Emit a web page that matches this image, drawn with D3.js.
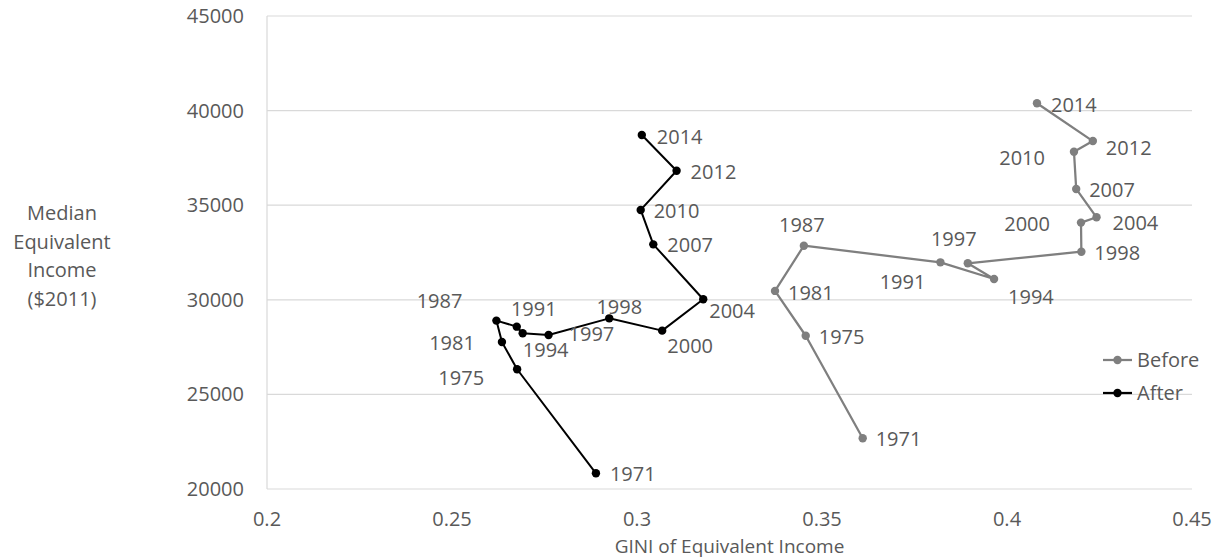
<!DOCTYPE html>
<html>
<head>
<meta charset="utf-8">
<script src="https://cdn.jsdelivr.net/npm/d3@7"></script>
<style>
  body { margin: 0; background: #fff; }
  text { font-family: "Open Sans", "Noto Sans", sans-serif; fill: #595959; }
</style>
</head>
<body>
<div id="chart"></div>
<script>
var years = [1971, 1975, 1981, 1987, 1991, 1994, 1997, 1998, 2000, 2004, 2007, 2010, 2012, 2014];
var beforeGini   = [0.3610, 0.3456, 0.3373, 0.3451, 0.3820, 0.3965, 0.3894, 0.4201, 0.4200, 0.4242, 0.4187, 0.4181, 0.4232, 0.4081];
var beforeIncome = [22680, 28100, 30470, 32860, 31980, 31100, 31930, 32540, 34080, 34360, 35860, 37830, 38390, 40390];
var afterGini    = [0.2889, 0.2676, 0.2635, 0.2620, 0.2675, 0.2691, 0.2761, 0.2925, 0.3068, 0.3179, 0.3044, 0.3010, 0.3107, 0.3013];
var afterIncome  = [20830, 26330, 27770, 28900, 28580, 28230, 28140, 29020, 28370, 30030, 32930, 34750, 36820, 38710];
var xTicks = [0.2, 0.25, 0.3, 0.35, 0.4, 0.45];
var yTicks = [20000, 25000, 30000, 35000, 40000, 45000];

// label placement: [anchor, dx, dy] per year
var beforeLabelPos = {
  1971: ["start", 13, 1], 1975: ["start", 13, 1], 1981: ["start", 13, 2],
  1987: ["middle", -2, -21], 1991: ["end", -15, 20], 1994: ["start", 14, 18],
  1997: ["middle", -14, -24], 1998: ["start", 13, 1], 2000: ["end", -31, 1],
  2004: ["start", 16, 6], 2007: ["start", 13, 1], 2010: ["end", -29, 6],
  2012: ["start", 13, 7], 2014: ["start", 14, 2]
};
var afterLabelPos = {
  1971: ["start", 14, 1], 1975: ["end", -33, 9], 1981: ["end", -27, 1],
  1987: ["end", -34, -20], 1991: ["middle", 17, -18], 1994: ["middle", 23, 17],
  1997: ["start", 20, -1], 1998: ["middle", 10, -11], 2000: ["middle", 28, 15],
  2004: ["start", 6, 12], 2007: ["start", 14, 1], 2010: ["start", 13, 1],
  2012: ["start", 14, 1], 2014: ["start", 15, 2]
};

var width = 1228, height = 560;
var svg = d3.select("#chart").append("svg")
  .attr("width", width)
  .attr("height", height);

var x = d3.scaleLinear().domain([0.2, 0.45]).range([267, 1192]);
var y = d3.scaleLinear().domain([20000, 45000]).range([489, 16]);

////////// grid //////////
svg.append("g")
  .selectAll("line")
  .data(yTicks)
  .enter().append("line")
  .attr("x1", x(0.2)).attr("x2", x(0.45))
  .attr("y1", function (d) { return y(d); })
  .attr("y2", function (d) { return y(d); })
  .attr("stroke", "#d9d9d9").attr("stroke-width", 1.2);
svg.append("line")
  .attr("x1", x(0.2)).attr("x2", x(0.2))
  .attr("y1", y(45000)).attr("y2", y(20000))
  .attr("stroke", "#d9d9d9").attr("stroke-width", 1.2);

////////// axes labels //////////
svg.append("g").selectAll("text")
  .data(yTicks).enter().append("text")
  .attr("x", 244)
  .attr("y", function (d) { return y(d); })
  .attr("dy", "0.35em")
  .attr("text-anchor", "end")
  .style("font-size", "20px")
  .text(function (d) { return d; });

svg.append("g").selectAll("text")
  .data(xTicks).enter().append("text")
  .attr("x", function (d) { return x(d); })
  .attr("y", 519)
  .attr("dy", "0.35em")
  .attr("text-anchor", "middle")
  .style("font-size", "20px")
  .text(function (d) { return d; });

svg.append("text")
  .attr("x", (x(0.2) + x(0.45)) / 2).attr("y", 546).attr("dy", "0.35em")
  .attr("text-anchor", "middle")
  .style("font-size", "19px")
  .text("GINI of Equivalent Income");

var yTitle = ["Median", "Equivalent", "Income", "($2011)"];
svg.append("g").selectAll("text")
  .data(yTitle).enter().append("text")
  .attr("x", 62)
  .attr("y", function (d, i) { return 213 + i * 28.5; })
  .attr("dy", "0.35em")
  .attr("text-anchor", "middle")
  .style("font-size", "20px")
  .text(function (d) { return d; });

////////// series //////////
function drawSeries(gini, income, color, lw, labelPos) {
  var pts = years.map(function (yr, i) { return { year: yr, g: gini[i], v: income[i] }; });
  var line = d3.line()
    .x(function (d) { return x(d.g); })
    .y(function (d) { return y(d.v); });
  var g = svg.append("g");
  g.append("path")
    .datum(pts)
    .attr("d", line)
    .attr("fill", "none")
    .attr("stroke", color)
    .attr("stroke-width", lw)
    .attr("stroke-linejoin", "round");
  g.selectAll("circle")
    .data(pts).enter().append("circle")
    .attr("cx", function (d) { return x(d.g); })
    .attr("cy", function (d) { return y(d.v); })
    .attr("r", 4.2)
    .attr("fill", color);
  g.selectAll("text")
    .data(pts).enter().append("text")
    .attr("x", function (d) { return x(d.g) + labelPos[d.year][1]; })
    .attr("y", function (d) { return y(d.v) + labelPos[d.year][2]; })
    .attr("dy", "0.35em")
    .attr("text-anchor", function (d) { return labelPos[d.year][0]; })
    .style("font-size", "20px")
    .text(function (d) { return d.year; });
}
drawSeries(beforeGini, beforeIncome, "#7f7f7f", 2.25, beforeLabelPos);
drawSeries(afterGini, afterIncome, "#000000", 2, afterLabelPos);

////////// legend //////////
var legend = [["Before", "#7f7f7f"], ["After", "#000000"]];
var lg = svg.append("g").selectAll("g")
  .data(legend).enter().append("g")
  .attr("transform", function (d, i) { return "translate(0," + (360 + i * 33) + ")"; });
lg.append("line")
  .attr("x1", 1103).attr("x2", 1132)
  .attr("stroke", function (d) { return d[1]; })
  .attr("stroke-width", 2.25);
lg.append("circle")
  .attr("cx", 1117.5).attr("r", 4.2)
  .attr("fill", function (d) { return d[1]; });
lg.append("text")
  .attr("x", 1137).attr("dy", "0.35em")
  .style("font-size", "20px")
  .text(function (d) { return d[0]; });
</script>
</body>
</html>
